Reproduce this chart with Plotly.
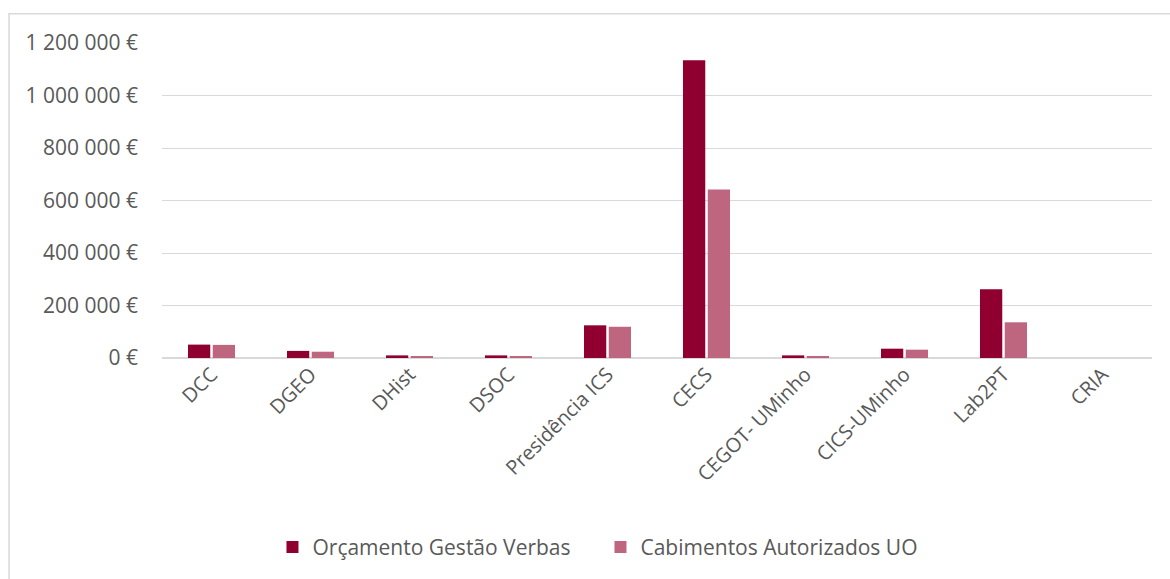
import plotly.graph_objects as go

categories = ["DCC", "DGEO", "DHist", "DSOC", "Presidência ICS", "CECS",
              "CEGOT- UMinho", "CICS-UMinho", "Lab2PT", "CRIA"]
orcamento = [51000, 27000, 10000, 10000, 124500, 1134000, 10000, 35500, 261500, 0]
cabimentos = [50000, 24000, 6000, 6000, 119000, 642000, 6000, 31700, 136000, 0]
series_names = ["Orçamento Gestão Verbas", "Cabimentos Autorizados UO"]
y_ticks = [0, 200000, 400000, 600000, 800000, 1000000, 1200000]
y_ticktext = ["0 €", "200 000 €", "400 000 €", "600 000 €", "800 000 €",
              "1 000 000 €", "1 200 000 €"]

W, H = 1170, 579
L, R, T, B = 161.5, W - 1151.7, 42.7, H - 357.7
pw, ph = W - L - R, H - T - B

FONT = "Open Sans, Liberation Sans, sans-serif"
GREY = "#595959"

fig = go.Figure()
fig.add_trace(go.Bar(x=categories, y=orcamento, name=series_names[0],
                     marker=dict(color="#8F0030", line=dict(width=0))))
fig.add_trace(go.Bar(x=categories, y=cabimentos, name=series_names[1],
                     marker=dict(color="#BE6680", line=dict(width=0))))

fig.update_layout(
    width=W, height=H,
    margin=dict(l=L, r=R, t=T, b=B, pad=0, autoexpand=False),
    paper_bgcolor="white", plot_bgcolor="white",
    barmode="group", bargap=0.5, bargroupgap=0.1,
    font=dict(family=FONT, size=20, color=GREY),
    showlegend=True,
    legend=dict(orientation="h", x=(272 - L) / pw, xanchor="left",
                y=(357.7 - 547) / ph, yanchor="middle",
                entrywidth=283, entrywidthmode="pixels",
                font=dict(family=FONT, size=21, color=GREY)),
    xaxis=dict(tickangle=-45, showgrid=False, showline=False, zeroline=False,
               ticks="", tickfont=dict(family=FONT, size=20, color=GREY)),
    yaxis=dict(range=[0, 1200000], tickvals=y_ticks, ticktext=y_ticktext,
               showgrid=True, gridcolor="#D9D9D9", gridwidth=1,
               zeroline=True, zerolinecolor="#D9D9D9", zerolinewidth=2,
               showline=False, ticks="", ticklabelstandoff=23,
               tickfont=dict(family=FONT, size=21, color=GREY)),
)

# outer chart border
fig.add_shape(type="rect", xref="paper", yref="paper",
              x0=(8.5 - L) / pw, x1=(W + 20 - L) / pw,
              y0=(357.7 - (H + 20)) / ph, y1=(357.7 - 13.5) / ph,
              line=dict(color="#D9D9D9", width=1.5), fillcolor="rgba(0,0,0,0)",
              layer="below")

fig.write_html("out.html", config={"displayModeBar": False},
               post_script="document.body.style.margin='0';document.body.style.overflow='hidden';")
